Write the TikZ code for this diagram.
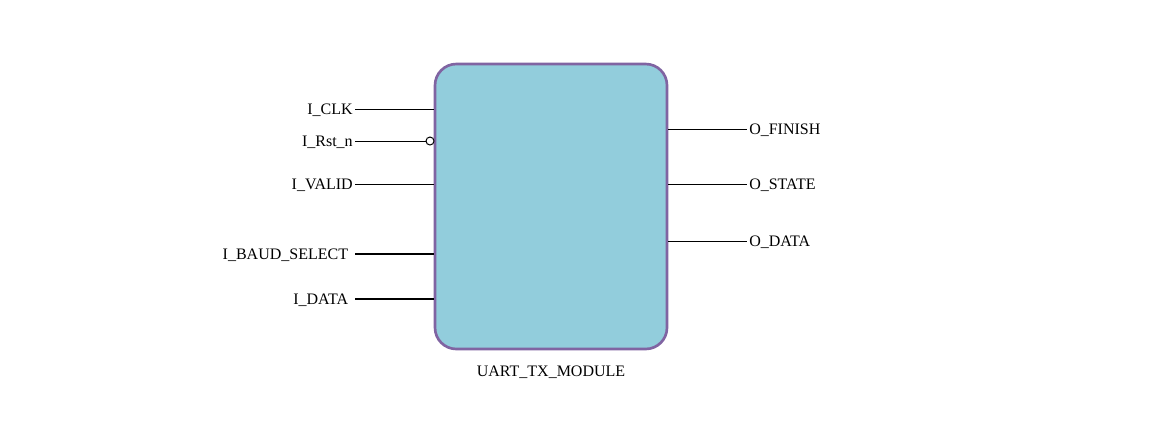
\documentclass[tikz,border=0pt]{standalone}
\usepackage{fontspec}
\setmainfont{Liberation Serif}
\definecolor{modfill}{HTML}{92CDDC}
\definecolor{modline}{HTML}{8064A2}
\begin{document}
\begin{tikzpicture}[x=0.75pt,y=-0.75pt,
  modbox/.style={draw=modline, fill=modfill, line width=2pt, rounded corners=16pt,
    minimum width=174pt, minimum height=213.75pt, inner sep=0pt},
  pinlbl/.style={font=\fontsize{12}{14}\selectfont, inner sep=1.5pt, yshift=-0.6pt},
  buslbl/.style={font=\fontsize{12}{14}\selectfont, inner sep=1.5pt, inner xsep=5pt, yshift=-0.6pt},
  pin/.style={line width=0.75pt},
  bus/.style={line width=1.6pt},
  neg/.style={circle, draw, fill=white, line width=0.75pt, minimum size=6pt, inner sep=0pt}]
\useasboundingbox (0,0) rectangle (1151,430);
\node[modbox] (mod) at (551,206.5) {};
\node[pinlbl] at (551,371) (name) {UART\_TX\_MODULE};
% inputs
\node[pinlbl, anchor=east] (clk) at (355,109) {I\_CLK};
\node[pinlbl, anchor=east] (rst) at (355,141) {I\_Rst\_n};
\node[pinlbl, anchor=east] (valid) at (355,184) {I\_VALID};
\node[buslbl, anchor=east] (baud) at (355,254) {I\_BAUD\_SELECT};
\node[buslbl, anchor=east] (din) at (355,299) {I\_DATA};
\node[neg] (rstn) at (430,141) {};
\draw[pin] (clk.east |- 0,109) -- (mod.west |- 0,109);
\draw[pin] (rst.east |- 0,141) -- (rstn);
\draw[pin] (valid.east |- 0,184) -- (mod.west |- 0,184);
\draw[bus] (baud.east |- 0,254) -- (mod.west |- 0,254);
\draw[bus] (din.east |- 0,299) -- (mod.west |- 0,299);
% outputs
\node[pinlbl, anchor=west] (fin) at (747,129) {O\_FINISH};
\node[pinlbl, anchor=west] (state) at (747,184) {O\_STATE};
\node[pinlbl, anchor=west] (dout) at (747,241) {O\_DATA};
\draw[pin] (mod.east |- 0,129) -- (fin.west |- 0,129);
\draw[pin] (mod.east |- 0,184) -- (state.west |- 0,184);
\draw[pin] (mod.east |- 0,241) -- (dout.west |- 0,241);
\end{tikzpicture}
\end{document}
